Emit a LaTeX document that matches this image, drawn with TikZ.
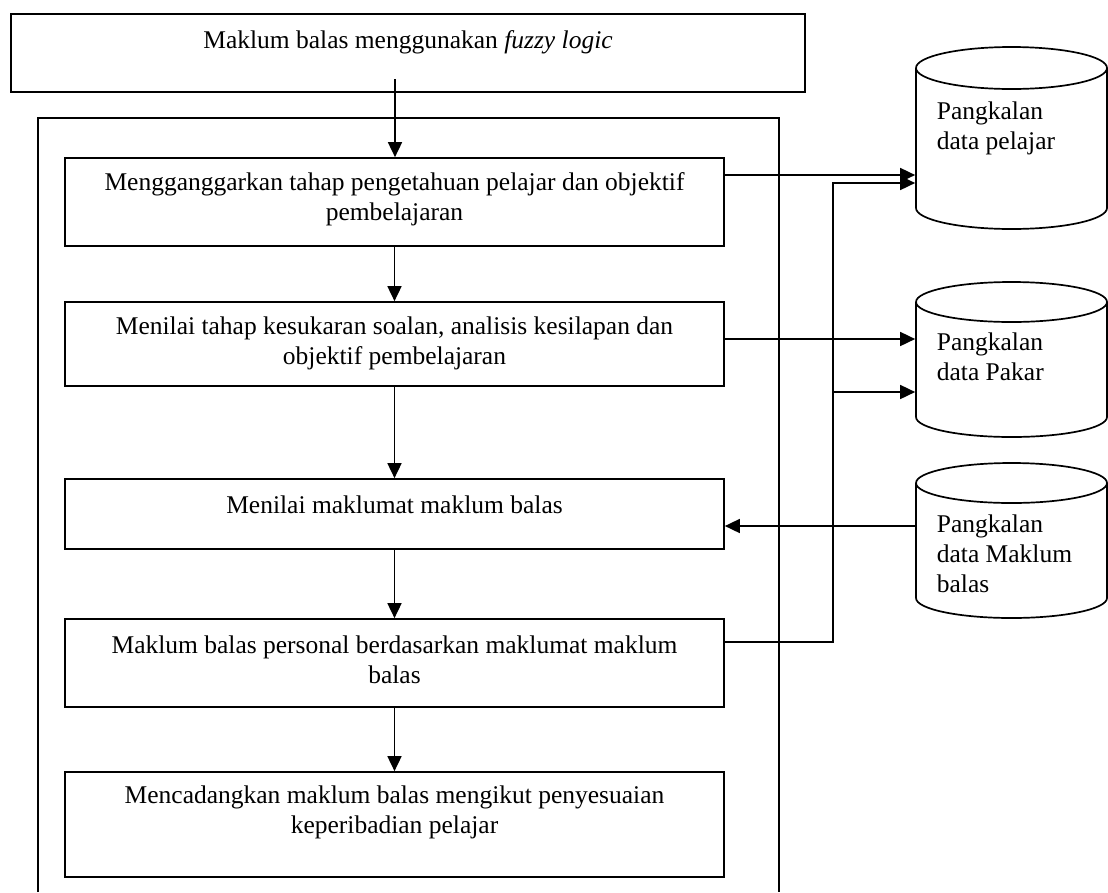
\documentclass[tikz,border=0pt]{standalone}
\usepackage{fontspec}
\setmainfont{Liberation Serif}
\usetikzlibrary{arrows.meta}
\begin{document}
\begin{tikzpicture}[x=1pt,y=1pt,
  line width=1.7pt,
  box/.style={draw, rectangle, line width=1.7pt, inner sep=0pt},
  lbl/.style={inner sep=0pt, font=\fontsize{25.5}{30}\selectfont, align=center},
  dblbl/.style={inner sep=0pt, font=\fontsize{25.5}{30}\selectfont, align=left, anchor=west},
  dbspot/.style={inner sep=0pt, minimum width=191},
  arr/.style={-{Triangle[length=15pt,width=14pt]}, line width=1.7pt},
]
\useasboundingbox (0,0) rectangle (1108,-892);

% outer frame (continues past the bottom edge)
\draw (38,-892) -- (38,-118) -- (779,-118) -- (779,-892);

% top box
\node[box, minimum width=794, minimum height=78] (top) at (408,-53) {};
\node[lbl] (ttop) at (408,-42) {Maklum balas menggunakan \textit{fuzzy logic}};

% process boxes
\node[box, minimum width=659, minimum height=88] (b1) at (394.5,-202) {};
\node[lbl] (t1) at (394.5,-199) {Mengganggarkan tahap pengetahuan pelajar dan objektif\\pembelajaran};
\node[box, minimum width=659, minimum height=84] (b2) at (394.5,-344) {};
\node[lbl] (t2) at (394.5,-343) {Menilai tahap kesukaran soalan, analisis kesilapan dan\\objektif pembelajaran};
\node[box, minimum width=659, minimum height=70] (b3) at (394.5,-514) {};
\node[lbl] (t3) at (394.5,-505) {Menilai maklumat maklum balas};
\node[box, minimum width=659, minimum height=88] (b4) at (394.5,-663) {};
\node[lbl] (t4) at (394.5,-659.5) {Maklum balas personal berdasarkan maklumat maklum\\balas};
\node[box, minimum width=659, minimum height=105] (b5) at (394.5,-824.5) {};
\node[lbl] (t5) at (394.5,-812) {Mencadangkan maklum balas mengikut penyesuaian\\keperibadian pelajar};

% databases (cylinders)
\draw (916,-68) -- (916,-208) arc[start angle=180, end angle=360, x radius=95.5, y radius=21] -- (1107,-68);
\draw (1011.5,-68) ellipse[x radius=95.5, y radius=21];
\node[dbspot, minimum height=182] (db1) at (1011.5,-138) {};
\node[dblbl] (d1) at (936,-128) {Pangkalan\\data pelajar};

\draw (916,-302) -- (916,-417) arc[start angle=180, end angle=360, x radius=95.5, y radius=20] -- (1107,-302);
\draw (1011.5,-302) ellipse[x radius=95.5, y radius=20];
\node[dbspot, minimum height=155] (db2) at (1011.5,-359.5) {};
\node[dblbl] (d2) at (936,-357) {Pangkalan\\data Pakar};

\draw (916,-483) -- (916,-598) arc[start angle=180, end angle=360, x radius=95.5, y radius=20] -- (1107,-483);
\draw (1011.5,-483) ellipse[x radius=95.5, y radius=20];
\node[dbspot, minimum height=155] (db3) at (1011.5,-540.5) {};
\node[dblbl] (d3) at (936,-554) {Pangkalan\\data Maklum\\balas};

% helper levels
\coordinate (s0) at (395,-79);
\coordinate (ya) at (0,-175);
\coordinate (yb) at (0,-183);
\coordinate (yc) at (0,-339);
\coordinate (yd) at (0,-392);
\coordinate (ye) at (0,-526);
\coordinate (yf) at (0,-642);
\coordinate (bus) at (833,-642);

% vertical flow
\draw[arr] (s0) -- (s0 |- b1.north);
\draw[arr] (b1.south) -- (b2.north);
\draw[arr] (b2.south) -- (b3.north);
\draw[arr] (b3.south) -- (b4.north);
\draw[arr] (b4.south) -- (b5.north);

% database links
\draw[arr] (b1.east |- ya) -- (db1.west |- ya);
\draw[arr] (b2.east |- yc) -- (db2.west |- yc);
\draw[arr] (db3.west |- ye) -- (b3.east |- ye);
\draw[arr] (b4.east |- yf) -- (bus) -- (bus |- yb) -- (db1.west |- yb);
\draw[arr] (bus |- yd) -- (db2.west |- yd);
\end{tikzpicture}
\end{document}
